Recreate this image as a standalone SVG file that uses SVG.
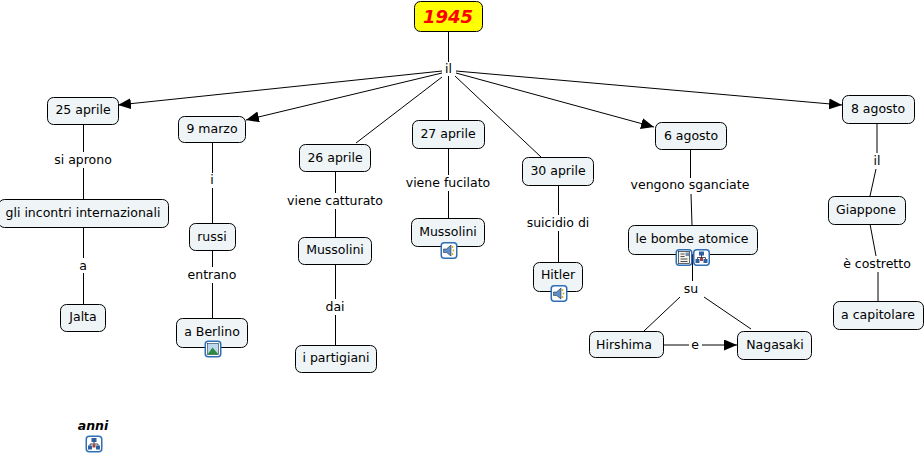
<svg xmlns="http://www.w3.org/2000/svg" width="924" height="454" viewBox="0 0 924 454">
<style>
text{font-family:"DejaVu Sans",sans-serif;font-size:12.5px;fill:#000;text-anchor:middle}
.n{fill:#eff4f7;stroke:#000;stroke-width:1}
.c line{stroke:#000;stroke-width:1;fill:none}
.ib{fill:#fff;stroke:#2f6fb5;stroke-width:1.5}
.d{fill:#2f5f9f;stroke:none}
.l{stroke:#223;stroke-width:.8;fill:none}
</style>
<defs>
<marker id="a" markerUnits="userSpaceOnUse" markerWidth="14" markerHeight="12" refX="13" refY="5.5" orient="auto"><path d="M0 0L13 5.5L0 11Z" fill="#000"/></marker>
<g id="map"><rect class="ib" x="0.75" y="0.75" width="15.5" height="15.5" rx="3"/><rect class="d" x="6" y="2.500" width="5" height="4"/><path class="l" d="M8.5 6V9M4.500 10V8.500H12.500V10"/><rect class="d" x="2.500" y="10" width="4" height="4"/><rect x="7" y="9" width="3" height="3" fill="#a04040"/><rect class="d" x="10.500" y="10" width="4" height="4"/></g>
<g id="snd"><rect class="ib" x="0.75" y="0.75" width="15.5" height="15.500" rx="3"/><path d="M3 7H6L10.500 3V14L6 10.500H3Z" fill="#5f8fc8" stroke="#234"  stroke-width=".6"/><path d="M12 4V6M13 7.500V9.500M12 11V13" stroke="#d8b020" stroke-width="1.500"/></g>
</defs>
<g class="c" id="connectors">
<line x1="448.500" y1="32" x2="448.500" y2="62"/>
<line x1="442" y1="71" x2="118" y2="105" marker-end="url(#a)"/>
<line x1="442" y1="73" x2="246" y2="120" marker-end="url(#a)"/>
<line x1="442" y1="77" x2="356" y2="143"/>
<line x1="448.500" y1="76" x2="448.500" y2="120"/>
<line x1="455" y1="76" x2="541" y2="157"/>
<line x1="456" y1="73" x2="654" y2="127" marker-end="url(#a)"/>
<line x1="456" y1="71" x2="842" y2="105" marker-end="url(#a)"/>
<line x1="83.500" y1="124" x2="83.500" y2="152"/><line x1="83.500" y1="168" x2="83.500" y2="199"/>
<line x1="83.500" y1="228" x2="83.500" y2="258"/><line x1="83.500" y1="273" x2="83.500" y2="304"/>
<line x1="212.500" y1="142" x2="212.500" y2="173"/><line x1="212.500" y1="188" x2="212.500" y2="223"/>
<line x1="212.500" y1="250" x2="212.500" y2="267"/><line x1="212.500" y1="283" x2="212.500" y2="318"/>
<line x1="335.500" y1="171" x2="335.500" y2="193"/><line x1="335.500" y1="209" x2="335.500" y2="237"/>
<line x1="335.500" y1="264" x2="335.500" y2="299"/><line x1="335.500" y1="315" x2="335.500" y2="345"/>
<line x1="448.500" y1="148" x2="448.500" y2="175"/><line x1="448.500" y1="191" x2="448.500" y2="219"/>
<line x1="558.500" y1="185" x2="558.500" y2="215"/><line x1="558.500" y1="231" x2="558.500" y2="262"/>
<line x1="690.500" y1="149" x2="690.500" y2="178"/><line x1="691" y1="194" x2="692" y2="225"/>
<line x1="692.500" y1="254" x2="692.500" y2="281"/>
<line x1="680" y1="297" x2="644" y2="331"/><line x1="704" y1="297" x2="751" y2="329"/>
<line x1="663" y1="345" x2="689" y2="345"/><line x1="702" y1="345" x2="737" y2="345" marker-end="url(#a)"/>
<line x1="877" y1="123" x2="877" y2="153"/><line x1="876" y1="169" x2="870" y2="196"/>
<line x1="870" y1="224" x2="876" y2="256"/><line x1="878" y1="272" x2="878" y2="301"/>
</g>
<g id="labels">
<text x="448.500" y="73">il</text>
<text x="83" y="164">si aprono</text>
<text x="83" y="270">a</text>
<text x="212" y="184">i</text>
<text x="212" y="279">entrano</text>
<text x="335" y="205">viene catturato</text>
<text x="335" y="311">dai</text>
<text x="448" y="187">viene fucilato</text>
<text x="558" y="227">suicidio di</text>
<text x="690" y="189">vengono sganciate</text>
<text x="691" y="293">su</text>
<text x="695" y="349">e</text>
<text x="877" y="165">il</text>
<text x="877" y="268">è costretto</text>
</g>
<g id="n1945"><rect x="414.500" y="1.500" width="68" height="30" rx="6" fill="#ff0" stroke="#000"/><text x="448" y="23" style="font-size:18px;font-weight:bold;font-style:italic;fill:#f00">1945</text></g>
<g id="n25aprile"><rect class="n" x="47.500" y="97.500" width="71" height="27" rx="6"/><text x="83" y="114">25 aprile</text></g>
<g id="n9marzo"><rect class="n" x="178.500" y="116.500" width="67" height="26" rx="6"/><text x="212" y="133">9 marzo</text></g>
<g id="n26aprile"><rect class="n" x="299.500" y="144.500" width="71" height="27" rx="6"/><text x="335" y="162">26 aprile</text></g>
<g id="n27aprile"><rect class="n" x="412.500" y="120.500" width="72" height="28" rx="6"/><text x="448" y="138">27 aprile</text></g>
<g id="n30aprile"><rect class="n" x="522.500" y="157.500" width="71" height="28" rx="6"/><text x="558" y="175">30 aprile</text></g>
<g id="n6agosto"><rect class="n" x="655.500" y="122.500" width="71" height="27" rx="6"/><text x="691" y="140">6 agosto</text></g>
<g id="n8agosto"><rect class="n" x="842.500" y="95.500" width="72" height="28" rx="6"/><text x="878" y="113">8 agosto</text></g>
<g id="incontri"><rect class="n" x="-1.500" y="199.500" width="170" height="28" rx="6"/><text x="83" y="217">gli incontri internazionali</text></g>
<g id="jalta"><rect class="n" x="60.500" y="304.500" width="45" height="27" rx="6"/><text x="83" y="321">Jalta</text></g>
<g id="russi"><rect class="n" x="189.500" y="223.500" width="46" height="27" rx="6"/><text x="212" y="241">russi</text></g>
<g id="berlino"><rect class="n" x="176.500" y="318.500" width="71" height="29" rx="6"/><text x="212" y="336">a Berlino</text>
<g transform="translate(204.500 340.500)"><rect class="ib" x="0.750" y="0.750" width="15.500" height="15.500" rx="3"/><rect x="3" y="3" width="11" height="11" fill="#bcd8f0" stroke="#234" stroke-width=".6"/><path d="M3 14L8 7L14 14Z" fill="#2f8a3f"/></g></g>
<g id="mussolini1"><rect class="n" x="298.500" y="237.500" width="73" height="27" rx="6"/><text x="335" y="254">Mussolini</text></g>
<g id="partigiani"><rect class="n" x="295.500" y="345.500" width="81" height="27" rx="6"/><text x="336" y="362">i partigiani</text></g>
<g id="mussolini2"><rect class="n" x="411.500" y="218.500" width="73" height="28" rx="6"/><text x="448" y="236">Mussolini</text><use href="#snd" x="440.500" y="242"/></g>
<g id="hitler"><rect class="n" x="533.500" y="262.500" width="49" height="29" rx="6"/><text x="558" y="279">Hitler</text><use href="#snd" x="550.500" y="285"/></g>
<g id="bombe"><rect class="n" x="628.500" y="225.500" width="129" height="29" rx="6"/><text x="692" y="243">le bombe atomice</text>
<g transform="translate(675.500 249)"><rect class="ib" x="0.750" y="0.750" width="15.500" height="15.500" rx="3"/><rect x="3" y="2.500" width="11" height="12" fill="#f4f4e8" stroke="#223" stroke-width=".7"/><path class="l" d="M5 5H9M5 7.500H9M5 10H12M5 12.500H12"/><rect x="10" y="3.500" width="3.500" height="3.500" fill="#7a8fb0"/></g>
<use href="#map" x="693" y="249"/></g>
<g id="hirshima"><rect class="n" x="589.500" y="331.500" width="74" height="26" rx="6"/><text x="624" y="349">Hirshima</text></g>
<g id="nagasaki"><rect class="n" x="737.500" y="331.500" width="74" height="28" rx="6"/><text x="775" y="349">Nagasaki</text></g>
<g id="giappone"><rect class="n" x="828.500" y="196.500" width="77" height="28" rx="6"/><text x="866" y="214">Giappone</text></g>
<g id="capitolare"><rect class="n" x="833.500" y="301.500" width="90" height="28" rx="6"/><text x="878" y="319">a capitolare</text></g>
<g id="anni"><text x="93" y="430" style="font-weight:bold;font-style:italic">anni</text><use href="#map" x="85.500" y="435.500"/></g>
</svg>
